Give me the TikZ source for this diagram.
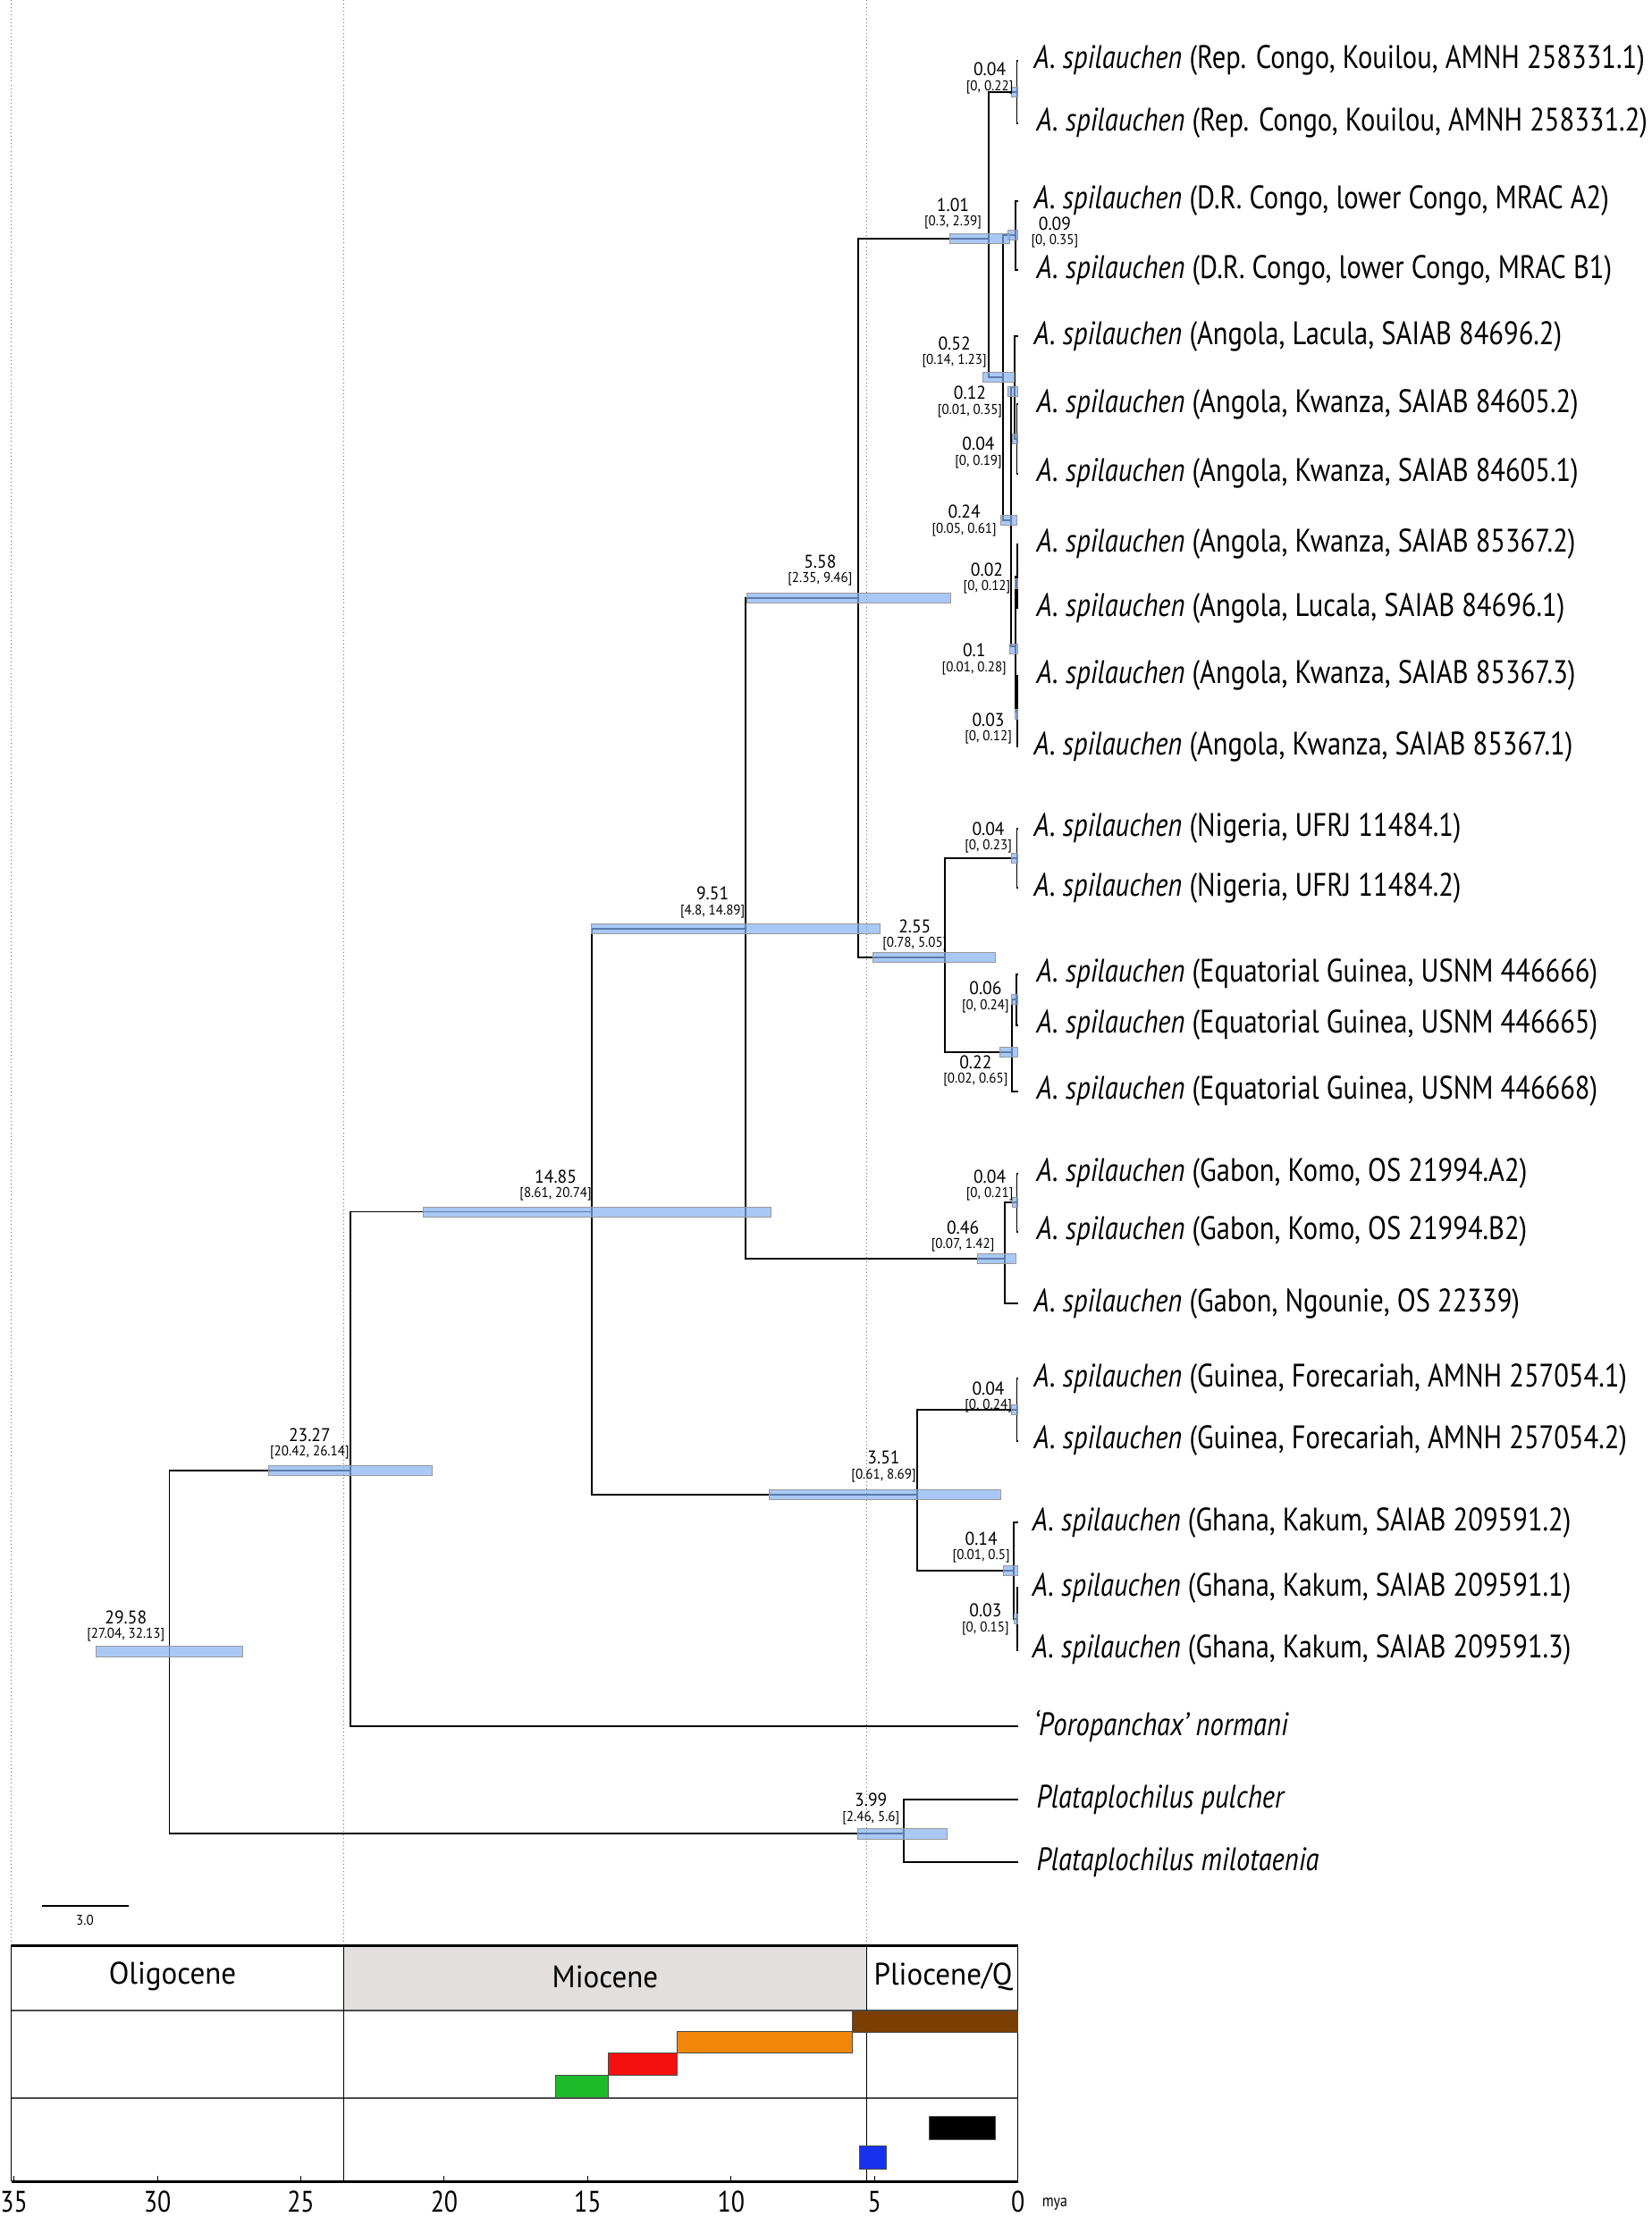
\documentclass[tikz,border=0pt]{standalone}
\usepackage{fontspec}
\setmainfont{PT Sans}[FakeStretch=0.84]
\newfontfamily\plainfont{PT Sans}[FakeStretch=0.95]
\definecolor{barcol}{RGB}{132,176,241}
\definecolor{miogray}{RGB}{227,223,223}
\definecolor{cbrown}{RGB}{122,62,0}
\definecolor{corange}{RGB}{240,135,10}
\definecolor{cred}{RGB}{245,16,16}
\definecolor{cgreen}{RGB}{29,187,42}
\definecolor{cblue}{RGB}{22,50,240}
\newcommand\ax[1]{720-20.29*#1}
\newcommand\hpdbar[3]{\draw[hpd] ({720-20.29*#2},#3-3.5) rectangle ({720-20.29*#1},#3+3.5);}
\newcommand\agelab[5]{\node[age] (a#1) at (#2,#3-1) {#4}; \node[ci] (c#1) at (#2,#3+11.5) {#5};}
\begin{document}
\begin{tikzpicture}[x=1pt,y=-1pt,
  br/.style={line width=1.2pt,black},
  hpd/.style={fill=barcol,fill opacity=0.7,draw=gray!80,line width=0.5pt},
  age/.style={font=\plainfont\fontsize{13}{14}\selectfont,inner sep=0pt},
  ci/.style={font=\plainfont\fontsize{10}{11}\selectfont,inner sep=0pt},
  tip/.style={font=\fontsize{23}{24}\selectfont,anchor=west,inner sep=0pt},
  grid/.style={gray!85!black,dotted,line width=0.6pt},
  epoch/.style={font=\plainfont\fontsize{22}{23}\selectfont,inner sep=0pt},
  ticklab/.style={font=\fontsize{21}{22}\selectfont,inner sep=0pt}]
\useasboundingbox (0,0) rectangle (1168,1568);
% dotted epoch guides
\draw[grid] (8,0) -- (8,1376);
\draw[grid] (243,0) -- (243,1376);
\draw[grid] (613,0) -- (613,1376);
% tips
\coordinate (t1) at (720,43);   \coordinate (t2) at (720,87);
\coordinate (t3) at (720,142);  \coordinate (t4) at (720,191);
\coordinate (t5) at (720,238);  \coordinate (t6) at (720,286);
\coordinate (t7) at (720,335);  \coordinate (t8) at (720,385);
\coordinate (t9) at (720,430);  \coordinate (t10) at (720,478);
\coordinate (t11) at (720,528); \coordinate (t12) at (720,586);
\coordinate (t13) at (720,628); \coordinate (t14) at (720,689);
\coordinate (t15) at (720,725); \coordinate (t16) at (720,772);
\coordinate (t17) at (720,830); \coordinate (t18) at (720,871);
\coordinate (t19) at (720,922); \coordinate (t20) at (720,975);
\coordinate (t21) at (720,1019);\coordinate (t22) at (720,1077);
\coordinate (t23) at (720,1123);\coordinate (t24) at (720,1167);
\coordinate (t25) at (720,1221);\coordinate (t26) at (720,1273);
\coordinate (t27) at (720,1317);
% internal nodes
\coordinate (nA) at ({\ax{0.04}},65);
\coordinate (nB) at ({\ax{0.09}},166.5);
\coordinate (nC) at ({\ax{0.04}},310.5);
\coordinate (nD) at ({\ax{0.12}},274);
\coordinate (nE) at ({\ax{0.02}},407.5);
\coordinate (nF) at ({\ax{0.03}},503);
\coordinate (nG) at ({\ax{0.1}},457);
\coordinate (nH) at ({\ax{0.24}},368);
\coordinate (nI) at ({\ax{0.52}},267);
\coordinate (nJ) at ({\ax{1.01}},169);
\coordinate (nK) at ({\ax{0.04}},607);
\coordinate (nL) at ({\ax{0.06}},707);
\coordinate (nM) at ({\ax{0.22}},744);
\coordinate (nN) at ({\ax{2.55}},677);
\coordinate (nO) at ({\ax{5.58}},423);
\coordinate (nP) at ({\ax{0.04}},850.5);
\coordinate (nQ) at ({\ax{0.46}},890);
\coordinate (nR) at ({\ax{9.51}},657);
\coordinate (nS) at ({\ax{0.04}},997);
\coordinate (nT) at ({\ax{0.03}},1145);
\coordinate (nU) at ({\ax{0.14}},1111);
\coordinate (nV) at ({\ax{3.51}},1057);
\coordinate (nW) at ({\ax{14.85}},857);
\coordinate (nX) at ({\ax{23.27}},1040);
\coordinate (nY) at ({\ax{3.99}},1297);
\coordinate (nZ) at ({\ax{29.58}},1168);
% branches
\draw[br] (nA) |- (t1); \draw[br] (nA) |- (t2);
\draw[br] (nB) |- (t3); \draw[br] (nB) |- (t4);
\draw[br] (nC) |- (t6); \draw[br] (nC) |- (t7);
\draw[br] (nD) |- (t5); \draw[br] (nD) |- (nC);
\draw[br] (nE) |- (t8); \draw[br] (nE) |- (t9);
\draw[br] (nF) |- (t10); \draw[br] (nF) |- (t11);
\draw[br] (nG) |- (nE); \draw[br] (nG) |- (nF);
\draw[br] (nH) |- (nD); \draw[br] (nH) |- (nG);
\draw[br] (nI) |- (nB); \draw[br] (nI) |- (nH);
\draw[br] (nJ) |- (nA); \draw[br] (nJ) |- (nI);
\draw[br] (nK) |- (t12); \draw[br] (nK) |- (t13);
\draw[br] (nL) |- (t14); \draw[br] (nL) |- (t15);
\draw[br] (nM) |- (nL); \draw[br] (nM) |- (t16);
\draw[br] (nN) |- (nK); \draw[br] (nN) |- (nM);
\draw[br] (nO) |- (nJ); \draw[br] (nO) |- (nN);
\draw[br] (nP) |- (t17); \draw[br] (nP) |- (t18);
\draw[br] (nQ) |- (nP); \draw[br] (nQ) |- (t19);
\draw[br] (nR) |- (nO); \draw[br] (nR) |- (nQ);
\draw[br] (nS) |- (t20); \draw[br] (nS) |- (t21);
\draw[br] (nT) |- (t23); \draw[br] (nT) |- (t24);
\draw[br] (nU) |- (t22); \draw[br] (nU) |- (nT);
\draw[br] (nV) |- (nS); \draw[br] (nV) |- (nU);
\draw[br] (nW) |- (nR); \draw[br] (nW) |- (nV);
\draw[br] (nX) |- (nW); \draw[br] (nX) |- (t25);
\draw[br] (nY) |- (t26); \draw[br] (nY) |- (t27);
\draw[br] (nZ) |- (nX); \draw[br] (nZ) |- (nY);
% HPD bars
\hpdbar{0}{0.22}{65}
\hpdbar{0}{0.35}{166.5}
\hpdbar{0}{0.19}{310.5}
\hpdbar{0.01}{0.35}{277}
\hpdbar{0}{0.12}{413}
\hpdbar{0}{0.12}{505}
\hpdbar{0.01}{0.28}{459}
\hpdbar{0.05}{0.61}{368}
\hpdbar{0.14}{1.23}{267}
\hpdbar{0.3}{2.39}{169}
\hpdbar{0}{0.23}{607}
\hpdbar{0}{0.24}{707}
\hpdbar{0.02}{0.65}{744}
\hpdbar{0.78}{5.05}{677}
\hpdbar{2.35}{9.46}{423}
\hpdbar{0}{0.21}{850.5}
\hpdbar{0.07}{1.42}{890}
\hpdbar{4.8}{14.89}{657}
\hpdbar{0}{0.24}{997}
\hpdbar{0}{0.15}{1145}
\hpdbar{0.01}{0.5}{1111}
\hpdbar{0.61}{8.69}{1057}
\hpdbar{8.61}{20.74}{857}
\hpdbar{20.42}{26.14}{1040}
\hpdbar{2.46}{5.6}{1297}
\hpdbar{27.04}{32.13}{1168}
% node age labels
\agelab{A}{700}{50}{0.04}{[0, 0.22]}
\agelab{J}{674}{146}{1.01}{[0.3, 2.39]}
\agelab{B}{746}{159}{0.09}{[0, 0.35]}
\agelab{I}{675}{244}{0.52}{[0.14, 1.23]}
\agelab{D}{686}{279}{0.12}{[0.01, 0.35]}
\agelab{C}{692}{315}{0.04}{[0, 0.19]}
\agelab{H}{682}{363}{0.24}{[0.05, 0.61]}
\agelab{E}{698}{404}{0.02}{[0, 0.12]}
\agelab{G}{689}{461}{0.1}{[0.01, 0.28]}
\agelab{F}{699}{510}{0.03}{[0, 0.12]}
\agelab{O}{580}{398}{5.58}{[2.35, 9.46]}
\agelab{K}{699}{587}{0.04}{[0, 0.23]}
\agelab{R}{504}{633}{9.51}{[4.8, 14.89]}
\agelab{N}{647}{656}{2.55}{[0.78, 5.05]}
\agelab{L}{697}{700}{0.06}{[0, 0.24]}
\agelab{M}{690}{752}{0.22}{[0.02, 0.65]}
\agelab{W}{393}{833}{14.85}{[8.61, 20.74]}
\agelab{P}{700}{833}{0.04}{[0, 0.21]}
\agelab{Q}{681}{869}{0.46}{[0.07, 1.42]}
\agelab{S}{699}{983}{0.04}{[0, 0.24]}
\agelab{X}{219}{1016}{23.27}{[20.42, 26.14]}
\agelab{V}{625}{1032}{3.51}{[0.61, 8.69]}
\agelab{U}{694}{1089}{0.14}{[0.01, 0.5]}
\agelab{T}{697}{1140}{0.03}{[0, 0.15]}
\agelab{Z}{89}{1145}{29.58}{[27.04, 32.13]}
\agelab{Y}{616}{1274}{3.99}{[2.46, 5.6]}
% tip labels
\node[tip] (L1) at (731,43) {\textit{A. spilauchen} (Rep. Congo, Kouilou, AMNH 258331.1)};
\node[tip] (L2) at (733,87) {\textit{A. spilauchen} (Rep. Congo, Kouilou, AMNH 258331.2)};
\node[tip] (L3) at (731,142) {\textit{A. spilauchen} (D.R. Congo, lower Congo, MRAC A2)};
\node[tip] (L4) at (733,191) {\textit{A. spilauchen} (D.R. Congo, lower Congo, MRAC B1)};
\node[tip] (L5) at (731,238) {\textit{A. spilauchen} (Angola, Lacula, SAIAB 84696.2)};
\node[tip] (L6) at (733,286) {\textit{A. spilauchen} (Angola, Kwanza, SAIAB 84605.2)};
\node[tip] (L7) at (733,335) {\textit{A. spilauchen} (Angola, Kwanza, SAIAB 84605.1)};
\node[tip] (L8) at (733,385) {\textit{A. spilauchen} (Angola, Kwanza, SAIAB 85367.2)};
\node[tip] (L9) at (733,430) {\textit{A. spilauchen} (Angola, Lucala, SAIAB 84696.1)};
\node[tip] (L10) at (733,478) {\textit{A. spilauchen} (Angola, Kwanza, SAIAB 85367.3)};
\node[tip] (L11) at (731,528) {\textit{A. spilauchen} (Angola, Kwanza, SAIAB 85367.1)};
\node[tip] (L12) at (731,586) {\textit{A. spilauchen} (Nigeria, UFRJ 11484.1)};
\node[tip] (L13) at (731,628) {\textit{A. spilauchen} (Nigeria, UFRJ 11484.2)};
\node[tip] (L14) at (733,689) {\textit{A. spilauchen} (Equatorial Guinea, USNM 446666)};
\node[tip] (L15) at (733,725) {\textit{A. spilauchen} (Equatorial Guinea, USNM 446665)};
\node[tip] (L16) at (733,772) {\textit{A. spilauchen} (Equatorial Guinea, USNM 446668)};
\node[tip] (L17) at (733,830) {\textit{A. spilauchen} (Gabon, Komo, OS 21994.A2)};
\node[tip] (L18) at (733,871) {\textit{A. spilauchen} (Gabon, Komo, OS 21994.B2)};
\node[tip] (L19) at (731,922) {\textit{A. spilauchen} (Gabon, Ngounie, OS 22339)};
\node[tip] (L20) at (731,975) {\textit{A. spilauchen} (Guinea, Forecariah, AMNH 257054.1)};
\node[tip] (L21) at (731,1019) {\textit{A. spilauchen} (Guinea, Forecariah, AMNH 257054.2)};
\node[tip] (L22) at (730,1077) {\textit{A. spilauchen} (Ghana, Kakum, SAIAB 209591.2)};
\node[tip] (L23) at (730,1123) {\textit{A. spilauchen} (Ghana, Kakum, SAIAB 209591.1)};
\node[tip] (L24) at (730,1167) {\textit{A. spilauchen} (Ghana, Kakum, SAIAB 209591.3)};
\node[tip] (L25) at (731,1221) {\textit{‘Poropanchax’ normani}};
\node[tip] (L26) at (733,1273) {\textit{Plataplochilus pulcher}};
\node[tip] (L27) at (733,1317) {\textit{Plataplochilus milotaenia}};
% scale bar
\coordinate (sb1) at (30,1348); \coordinate (sb2) at (91,1348);
\draw[line width=0.8pt] (sb1) -- (sb2);
\node[ci] (sbl) at (60,1358) {3.0};
% epoch box
\fill[miogray] (243,1376) rectangle (613,1422);
\draw[gray!60!black,line width=1.4pt] (8,1422) -- (720,1422);
\draw[gray!60!black,line width=1.4pt] (8,1484) -- (720,1484);
\draw[line width=0.7pt] (243,1376) -- (243,1543);
\draw[line width=0.7pt] (613,1376) -- (613,1543);
\draw[line width=0.7pt] (8,1376) -- (8,1543);
\draw[line width=0.7pt] (720,1376) -- (720,1543);
\draw[line width=2pt] (8,1376) -- (720,1376);
\draw[line width=2pt] (8,1543) -- (720,1543);
\node[epoch] (oli) at (122,1398) {Oligocene};
\node[epoch] (mio) at (428,1398) {Miocene};
\node[epoch] (pli) at (667,1398) {Pliocene/Q};
\draw[fill=cbrown,draw=black!70,line width=0.6pt] (603,1422) rectangle (720,1437.5);
\draw[fill=corange,draw=black!70,line width=0.6pt] (479,1436.5) rectangle (603,1452);
\draw[fill=cred,draw=black!70,line width=0.6pt] (430,1452) rectangle (479,1467.5);
\draw[fill=cgreen,draw=black!70,line width=0.6pt] (393,1467.5) rectangle (430,1483.5);
\draw[fill=black,draw=black!70,line width=0.6pt] (657,1497) rectangle (704,1513);
\draw[fill=cblue,draw=black!70,line width=0.6pt] (608,1518) rectangle (627,1534);
% axis
\foreach \a in {35,30,25,20,15,10,5,0}{
  \draw[line width=0.6pt] ({\ax{\a}},1543) -- ({\ax{\a}},1539);
  \node[ticklab] (tk\a) at ({\ax{\a}},1557) {\a};
}
\node[font=\fontsize{12}{13}\selectfont,inner sep=0pt] (mya) at (746,1559) {mya};
\end{tikzpicture}
\end{document}
